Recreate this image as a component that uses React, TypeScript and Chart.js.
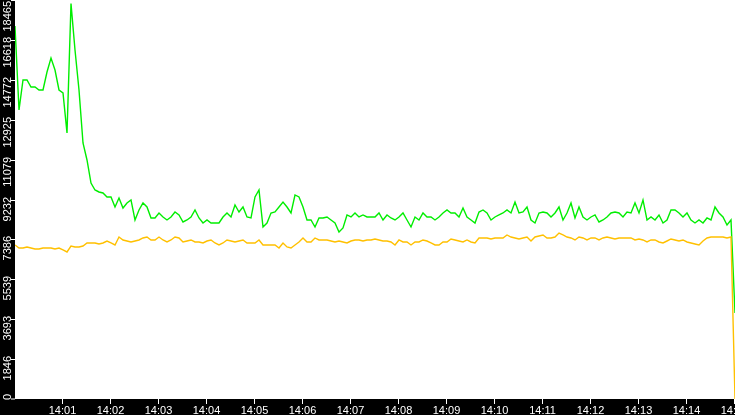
import React, { useEffect, useRef } from 'react';
import { Chart, registerables } from 'chart.js';

Chart.register(...registerables);

// samples every 5 seconds starting 14:00:00
const SAMPLE_SECONDS = 5;

const greenValues = [
  17262, 13375, 14763, 14763, 14439, 14439, 14300, 14300, 15134, 15781, 15226, 14300, 14162, 12310, 18300, 16152,
  14300, 11848, 11061, 9996, 9673, 9580, 9534, 9349, 9349, 8886, 9302, 8839, 9071, 9210, 8284, 8747,
  9071, 8886, 8377, 8377, 8608, 8423, 8284, 8423, 8654, 8516, 8192, 8284, 8423, 8747, 8377, 8145,
  8284, 8145, 8145, 8145, 8423, 8608, 8423, 8978, 8654, 8886, 8423, 8377, 9349, 9673, 7960, 8145,
  8608, 8654, 8886, 9117,
  8886, 8608, 9441, 9349, 8886, 8284, 8284, 7960, 8377, 8377, 8423, 8284, 8145, 7729, 7914, 8516,
  8423, 8608, 8423, 8516, 8423, 8423, 8423, 8608, 8284, 8516, 8377, 8284, 8423, 8608, 8284, 7960,
  8423, 8284, 8608, 8423,
  8423, 8284, 8423, 8608, 8747, 8608, 8608, 8423, 8839, 8423, 8284, 8145, 8654, 8747, 8608, 8284,
  8423, 8516, 8608, 8747, 8608, 9117, 8608, 8654, 8886, 8284, 8145, 8608, 8654, 8608, 8423, 8608,
  8886, 8284, 8608, 9071, 8377, 8886,
  8423, 8284, 8423, 8516, 8192, 8284, 8423, 8608, 8654, 8608, 8423, 8654, 8608, 9071, 8608, 9210,
  8284, 8423, 8284, 8516, 8145, 8284, 8747, 8747, 8608, 8423, 8608, 8284, 8145, 8284, 8145, 8377,
  8284, 8886, 8608, 8423, 8053, 8284, 3980,
];

const yellowValues = [
  7127, 6988, 6988, 7035, 6988, 6942, 6942, 6988, 6988, 6988, 6942, 6988, 6896, 6803, 7081, 7035,
  7035, 7081, 7220, 7220, 7220, 7173, 7220, 7312, 7220, 7127, 7497, 7359, 7312, 7266, 7312,
  7359, 7451, 7497, 7359, 7359, 7497, 7359, 7266, 7359, 7497, 7451, 7266, 7312, 7359, 7266, 7266,
  7220, 7312, 7359, 7220, 7127, 7220, 7359, 7312, 7266, 7312, 7359, 7220, 7220, 7220, 7359, 7127,
  7127, 7127, 7127, 6988, 7220,
  7035, 6988, 7127, 7266, 7451, 7266, 7266, 7451, 7359, 7359, 7359, 7312, 7266, 7312, 7266, 7220,
  7312, 7359, 7359, 7312, 7359, 7359, 7405, 7359, 7312, 7312, 7266, 7127, 7359, 7266, 7266, 7127,
  7266, 7266, 7359, 7312,
  7220, 7127, 7127, 7266, 7266, 7405, 7359, 7312, 7266, 7359, 7266, 7220, 7451, 7451, 7451, 7405,
  7451, 7451, 7451, 7590, 7497, 7451, 7405, 7451, 7497, 7312, 7497, 7544, 7590, 7451, 7451, 7497,
  7682, 7590, 7497, 7451, 7359, 7497,
  7451, 7359, 7451, 7451, 7359, 7451, 7497, 7451, 7405, 7451, 7451, 7451, 7451, 7359, 7405, 7359,
  7266, 7359, 7359, 7266, 7220, 7312, 7405, 7359, 7312, 7359, 7266, 7220, 7173, 7127, 7312, 7451,
  7497, 7497, 7497, 7497, 7451, 7497, 0,
];

// y ticks and their labels
const yTickValues = [0, 1846.5, 3693, 5539.5, 7386, 9232.5, 11079, 12925.5, 14772, 16618.5, 18465];
const yTickLabels = ['0', '1846', '3693', '5539', '7386', '9232', '11079', '12925', '14772', '16618', '18465'];

// x ticks in seconds after 14:00
const xTickSeconds = [60, 120, 180, 240, 300, 360, 420, 480, 540, 600, 660, 720, 780, 840, 900];
const xTickLabels = ['14:01', '14:02', '14:03', '14:04', '14:05', '14:06', '14:07', '14:08', '14:09', '14:10', '14:11', '14:12', '14:13', '14:14', '14:15'];

const LABEL_FONT = '11px "Liberation Sans", Arial, sans-serif';

const framePlugin = {
  id: 'frame',
  beforeDraw(chart: any) {
    const { ctx, chartArea } = chart;
    ctx.save();
    ctx.fillStyle = '#000';
    ctx.fillRect(0, 0, chart.width, chart.height);
    ctx.fillStyle = '#fff';
    ctx.fillRect(chartArea.left, chartArea.top, chartArea.right - chartArea.left, chartArea.bottom - chartArea.top);
    ctx.restore();
  },
  afterDraw(chart: any) {
    const { ctx, chartArea, scales } = chart;
    ctx.save();
    ctx.strokeStyle = '#fff';
    ctx.fillStyle = '#fff';
    ctx.lineWidth = 1;
    ctx.font = LABEL_FONT;

    // y axis: tick marks + rotated labels
    yTickValues.forEach((v, i) => {
      const py = Math.round(scales.y.getPixelForValue(v));
      const ty = Math.min(py, chartArea.bottom - 0.5);
      ctx.beginPath();
      ctx.moveTo(chartArea.left - 4, ty + 0.5);
      ctx.lineTo(chartArea.left, ty + 0.5);
      ctx.stroke();

      const w = ctx.measureText(yTickLabels[i]).width;
      let top = py - 3;
      if (top < 1) top = 1;
      if (top + w > chartArea.bottom + 1) top = chartArea.bottom + 1 - w;
      ctx.save();
      ctx.translate(10.5, top);
      ctx.rotate(-Math.PI / 2);
      ctx.textAlign = 'right';
      ctx.textBaseline = 'alphabetic';
      ctx.fillText(yTickLabels[i], 0, 0);
      ctx.restore();
    });

    // x axis: tick marks + labels
    ctx.textAlign = 'center';
    ctx.textBaseline = 'alphabetic';
    xTickSeconds.forEach((s, i) => {
      const px = Math.round(scales.x.getPixelForValue(s)) - 0.5;
      ctx.beginPath();
      ctx.moveTo(px, chartArea.bottom);
      ctx.lineTo(px, chartArea.bottom + 5);
      ctx.stroke();
      ctx.fillText(xTickLabels[i], px, chart.height - 1);
    });
    ctx.restore();
  },
};

export default function App() {
  const canvasRef = useRef<HTMLCanvasElement | null>(null);

  useEffect(() => {
    if (!canvasRef.current) return;
    const toPoints = (vals: number[]) => vals.map((v, i) => ({ x: i * SAMPLE_SECONDS, y: v }));

    const chart = new Chart(canvasRef.current, {
      type: 'line',
      data: {
        datasets: [
          {
            label: 'yellow',
            data: toPoints(yellowValues),
            borderColor: '#ffc000',
            borderWidth: 1.4,
            pointRadius: 0,
            tension: 0,
          },
          {
            label: 'green',
            data: toPoints(greenValues),
            borderColor: '#00ee00',
            borderWidth: 1.4,
            pointRadius: 0,
            tension: 0,
          },
        ],
      },
      options: {
        animation: false,
        responsive: true,
        maintainAspectRatio: false,
        layout: { padding: 0 },
        plugins: {
          legend: { display: false },
          tooltip: { enabled: false },
        },
        scales: {
          x: {
            type: 'linear',
            min: 0,
            max: 900,
            grid: { display: false },
            border: { display: false },
            ticks: { display: false },
            afterFit(scale: any) {
              scale.height = 16;
            },
          },
          y: {
            min: 0,
            max: 18465,
            grid: { display: false },
            border: { display: false },
            ticks: { display: false },
            afterFit(scale: any) {
              scale.width = 15;
            },
          },
        },
      },
      plugins: [framePlugin],
    } as any);

    return () => {
      chart.destroy();
    };
  }, []);

  return (
    <div style={{ position: 'fixed', left: 0, top: 0, width: 735, height: 415, background: '#000' }}>
      <canvas ref={canvasRef}></canvas>
    </div>
  );
}
